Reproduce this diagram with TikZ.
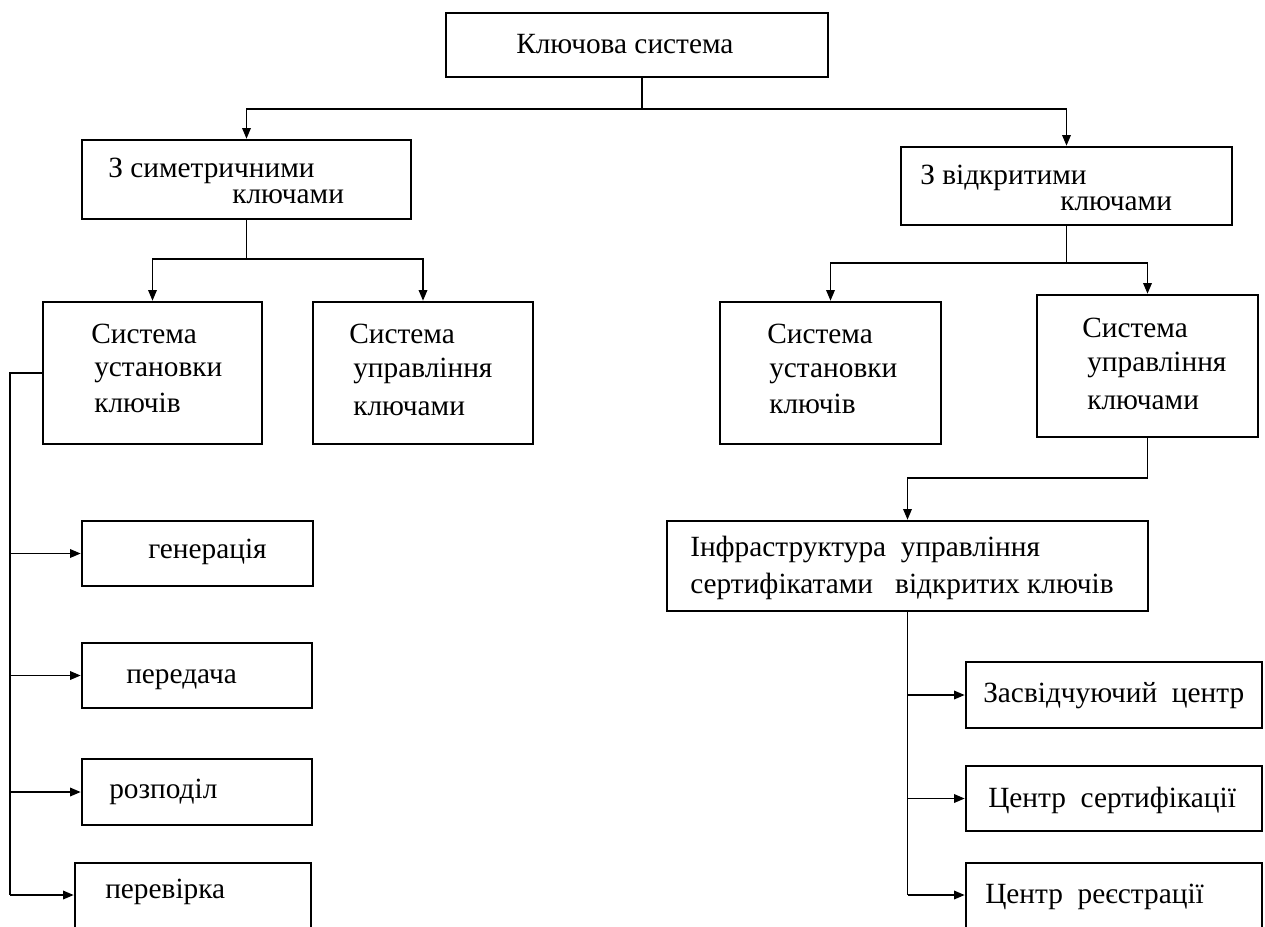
\documentclass[tikz,border=0pt]{standalone}
\usepackage{fontspec}
\setmainfont{Liberation Serif}
\usetikzlibrary{arrows.meta,fit}
\begin{document}
\begin{tikzpicture}[x=0.75pt,y=-0.75pt,
  box/.style={draw, line width=2pt, inner sep=0pt},
  txt/.style={anchor=base west, inner sep=0pt, font=\fontsize{22}{26}\selectfont},
  conn/.style={line width=1pt},
  arr/.style={line width=1pt, -{Triangle[length=8pt,width=6.5pt]}}]
\clip (0,0) rectangle (1265,926);
\fill[white] (0,0) rectangle (1265,926);
% boxes
\node[box, fit={(446,13) (828,77)}] (top) {};
\node[box, fit={(82,140) (411,219)}] (sym) {};
\node[box, fit={(901,147) (1232,225)}] (asym) {};
\node[box, fit={(43,302) (262,444)}] (s1) {};
\node[box, fit={(313,302) (533,444)}] (s2) {};
\node[box, fit={(720,302) (941,444)}] (r1) {};
\node[box, fit={(1037,295) (1258,437)}] (r2) {};
\node[box, fit={(667,521) (1148,611)}] (pki) {};
\node[box, fit={(82,521) (313,586)}] (gen) {};
\node[box, fit={(82,643) (312,708)}] (trn) {};
\node[box, fit={(82,759) (312,825)}] (dst) {};
\node[box, fit={(75,863) (311,935)}] (chk) {};
\node[box, fit={(966,662) (1262,728)}] (ca1) {};
\node[box, fit={(966,766) (1262,831)}] (ca2) {};
\node[box, fit={(966,863) (1262,935)}] (ra) {};
% texts
\node[txt] (t0) at (516,53) {Ключова система};
\node[txt] (t1a) at (108,177) {З симетричними};
\node[txt] (t1b) at (232,203) {ключами};
\node[txt] (t2a) at (920,184) {З відкритими};
\node[txt] (t2b) at (1060,210) {ключами};
\node[txt] (t3a) at (91,343) {Система};
\node[txt] (t3b) at (94,376) {установки};
\node[txt] (t3c) at (94,412) {ключів};
\node[txt] (t4a) at (349,343) {Система};
\node[txt] (t4b) at (353,377) {управління};
\node[txt] (t4c) at (353,415) {ключами};
\node[txt] (t5a) at (767,343) {Система};
\node[txt] (t5b) at (769,377) {установки};
\node[txt] (t5c) at (769,413) {ключів};
\node[txt] (t6a) at (1082,337) {Система};
\node[txt] (t6b) at (1087,371) {управління};
\node[txt] (t6c) at (1087,409) {ключами};
\node[txt] (t7a) at (690,556) {Інфраструктура\ \ управління};
\node[txt] (t7b) at (690,593) {сертифікатами\ \ \ відкритих ключів};
\node[txt] (t8) at (148,558) {генерація};
\node[txt] (t9) at (126,683) {передача};
\node[txt] (t10) at (109,798) {розподіл};
\node[txt] (t11) at (105,898) {перевірка};
\node[txt] (t12) at (983,702) {Засвідчуючий\ \ центр};
\node[txt] (t13) at (988,807) {Центр\ \ сертифікації};
\node[txt] (t14) at (985,903) {Центр\ \ реєстрації};
% connectors
\coordinate (a1) at (642,109);
\draw[conn] (a1 |- top.south) -- (a1);
\draw[arr] (a1) -| (sym);
\draw[arr] (a1) -| (asym);
\coordinate (a2) at (246.5,259);
\draw[conn] (sym.south) -- (a2);
\draw[arr] (a2) -| (s1);
\draw[arr] (a2) -| (s2);
\coordinate (a3) at (1066.5,263);
\draw[conn] (asym.south) -- (a3);
\draw[arr] (a3) -| (r1);
\draw[arr] (a3) -| (r2);
\coordinate (a4) at (1147.5,478);
\draw[conn] (r2.south) -- (a4);
\draw[arr] (a4) -| (pki);
% left branch
\coordinate (b0) at (10,373);
\coordinate (b4) at (10,895);
\draw[conn] (s1.west) -- (b0) -- (b4);
\draw[arr] (b0 |- gen.west) -- (gen.west);
\draw[arr] (b0 |- trn.west) -- (trn.west);
\draw[arr] (b0 |- dst.west) -- (dst.west);
\draw[arr] (b4) -- (b4 -| chk.west);
% right branch
\coordinate (c4) at (907.5,895);
\draw[conn] (pki.south) -- (c4);
\draw[arr] (c4 |- ca1.west) -- (ca1.west);
\draw[arr] (c4 |- ca2.west) -- (ca2.west);
\draw[arr] (c4) -- (c4 -| ra.west);
\end{tikzpicture}
\end{document}
